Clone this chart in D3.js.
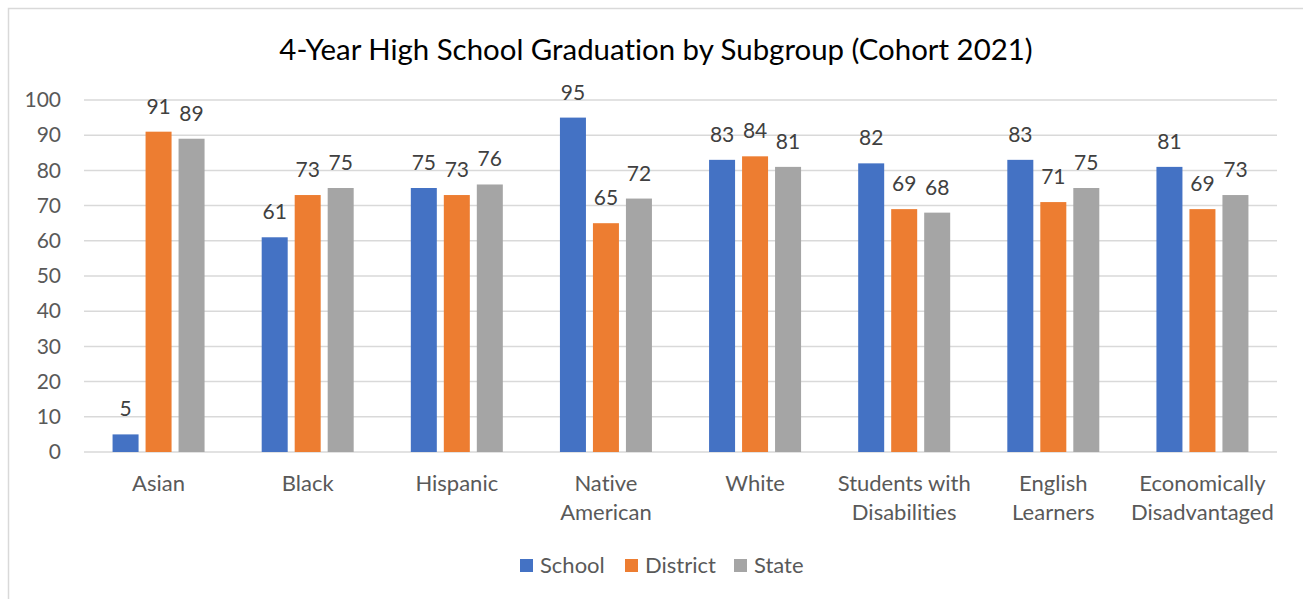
<!DOCTYPE html>
<html>
<head>
<meta charset="utf-8">
<script src="https://cdn.jsdelivr.net/npm/d3@7"></script>
<style>
  body { margin: 0; background: #fff; }
  text { font-family: Lato, "Open Sans", sans-serif; font-variant-ligatures: none; }
</style>
</head>
<body>
<script>
// data
var categories = ["Asian", "Black", "Hispanic", "Native American", "White", "Students with Disabilities", "English Learners", "Economically Disadvantaged"];
var categoryLines = [["Asian"], ["Black"], ["Hispanic"], ["Native", "American"], ["White"], ["Students with", "Disabilities"], ["English", "Learners"], ["Economically", "Disadvantaged"]];
var series = ["School", "District", "State"];
var school   = [5, 61, 75, 95, 83, 82, 83, 81];
var district = [91, 73, 73, 65, 84, 69, 71, 69];
var state    = [89, 75, 76, 72, 81, 68, 75, 73];
var yTicks = [0, 10, 20, 30, 40, 50, 60, 70, 80, 90, 100];
var colors = ["#4472C4", "#ED7D31", "#A5A5A5"];

var values = [school, district, state];
var rows = categories.map(function(c, i) {
  return { cat: c, lines: categoryLines[i], vals: series.map(function(s, j) { return { s: s, v: values[j][i] }; }) };
});

var W = 1303, H = 599;
var svg = d3.select("body").append("svg").attr("width", W).attr("height", H);

// chart border
svg.append("rect").attr("x", 8.5).attr("y", 8.5).attr("width", W + 20).attr("height", H + 20)
  .style("fill", "none").style("stroke", "#d9d9d9").style("stroke-width", 1.5);

// title
svg.append("text").attr("x", 656).attr("y", 60).attr("text-anchor", "middle")
  .style("font-size", "29.4px").style("fill", "#000")
  .text("4-Year High School Graduation by Subgroup (Cohort 2021)");

var pLeft = 84, pRight = 1277, pTop = 100, pBottom = 452;

var y = d3.scaleLinear().domain([0, 100]).range([pBottom, pTop]);
var x0 = d3.scaleBand().domain(categories).range([pLeft, pRight]).padding(0);
var cw = x0.bandwidth();
var x1 = d3.scaleBand().domain(series).range([cw / 2 - 46, cw / 2 + 46]).paddingInner(0.212);
var color = d3.scaleOrdinal().domain(series).range(colors);

// gridlines
svg.append("g").selectAll("line").data(yTicks).join("line")
  .attr("x1", pLeft).attr("x2", pRight)
  .attr("y1", function(d) { return y(d); }).attr("y2", function(d) { return y(d); })
  .style("stroke", "#d9d9d9").style("stroke-width", 1.5);

// y axis labels
var yAxis = svg.append("g").attr("transform", "translate(" + pLeft + ",0)")
  .call(d3.axisLeft(y).tickValues(yTicks).tickSize(0).tickPadding(23));
yAxis.select(".domain").remove();
yAxis.selectAll("text").style("font-size", "21px").style("fill", "#595959")
  .style("font-family", "Lato, sans-serif");

// bars
var groups = svg.append("g").selectAll("g").data(rows).join("g")
  .attr("transform", function(d) { return "translate(" + x0(d.cat) + ",0)"; });

groups.selectAll("rect").data(function(d) { return d.vals; }).join("rect")
  .attr("x", function(d) { return x1(d.s); })
  .attr("y", function(d) { return y(d.v); })
  .attr("width", x1.bandwidth())
  .attr("height", function(d) { return pBottom - y(d.v); })
  .style("fill", function(d) { return color(d.s); });

groups.selectAll("text.lbl").data(function(d) { return d.vals; }).join("text")
  .attr("class", "lbl")
  .attr("x", function(d) { return x1(d.s) + x1.bandwidth() / 2; })
  .attr("y", function(d) { return y(d.v) - 18; })
  .attr("text-anchor", "middle")
  .style("font-size", "21px").style("fill", "#404040")
  .text(function(d) { return d.v; });

// category labels
groups.append("text")
  .attr("text-anchor", "middle")
  .style("font-size", "22px").style("fill", "#595959")
  .selectAll("tspan").data(function(d) { return d.lines; }).join("tspan")
  .attr("x", cw / 2)
  .attr("y", function(d, i) { return 491 + i * 29; })
  .text(function(d) { return d; });

// legend
var legX = [520, 625, 734];
var legend = svg.append("g").selectAll("g").data(series).join("g")
  .attr("transform", function(d, i) { return "translate(" + legX[i] + ",559)"; });
legend.append("rect").attr("width", 13).attr("height", 13).style("fill", function(d) { return color(d); });
legend.append("text").attr("x", 20).attr("y", 14)
  .style("font-size", "22px").style("fill", "#595959")
  .text(function(d) { return d; });
</script>
</body>
</html>
